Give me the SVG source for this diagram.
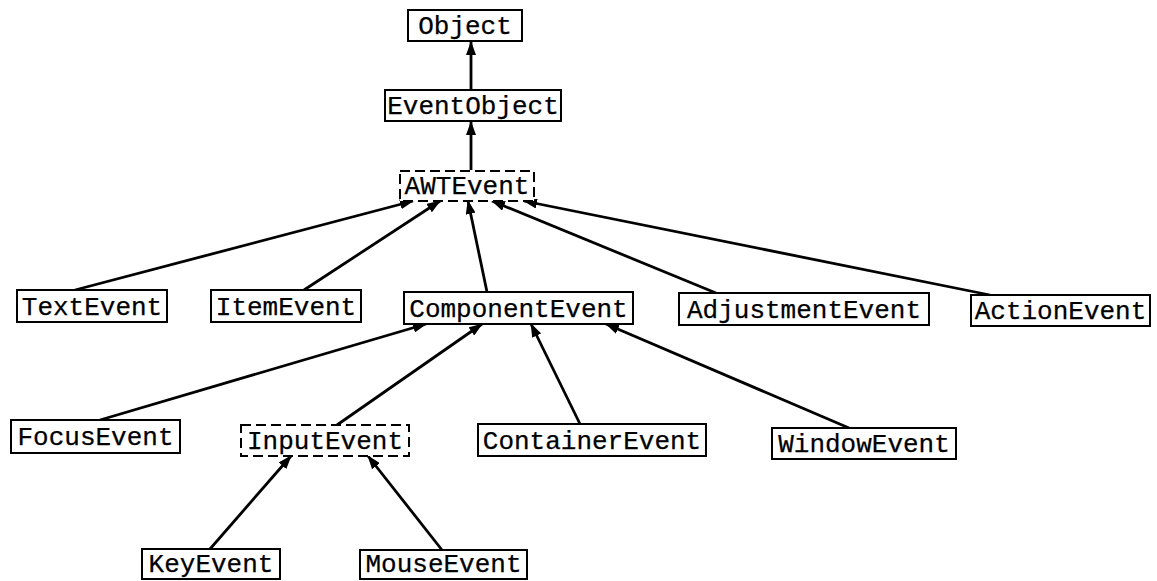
<svg xmlns="http://www.w3.org/2000/svg" width="1157" height="581" viewBox="0 0 1157 581">
<defs>
<marker id="ah" viewBox="0 0 14 10" refX="13" refY="5" markerWidth="14" markerHeight="10" markerUnits="userSpaceOnUse" orient="auto"><path d="M0,0 L14,5 L0,10 z" fill="#000"/></marker>
</defs>
<style>
.box{fill:#fff;stroke:#000;stroke-width:2}
.dash{fill:#fff;stroke:#000;stroke-width:2;stroke-dasharray:10,5}
.t{font-family:"Liberation Mono","Courier New",monospace;font-size:26px;fill:#000;stroke:#000;stroke-width:0.25;text-anchor:middle}
.c{stroke:#000;stroke-width:2.8;fill:none;marker-end:url(#ah)}
</style>
<rect width="1157" height="581" fill="#fff"/>
<g id="connectors">
<line class="c" x1="471" y1="90" x2="471" y2="42"/>
<line class="c" x1="471" y1="170" x2="471" y2="122"/>
<line class="c" x1="75" y1="290" x2="413" y2="201"/>
<line class="c" x1="304" y1="290" x2="440" y2="201"/>
<line class="c" x1="487" y1="292" x2="468" y2="201"/>
<line class="c" x1="716" y1="293" x2="492" y2="201"/>
<line class="c" x1="990" y1="295" x2="524" y2="201"/>
<line class="c" x1="100" y1="420" x2="426" y2="324"/>
<line class="c" x1="337" y1="425" x2="482" y2="324"/>
<line class="c" x1="580" y1="424" x2="531" y2="324"/>
<line class="c" x1="849" y1="428" x2="606" y2="324"/>
<line class="c" x1="210" y1="549" x2="291" y2="456"/>
<line class="c" x1="442" y1="550" x2="368" y2="456"/>
</g>
<g id="Object"><rect class="box" x="408" y="10" width="114" height="31"/><text class="t" x="465" y="34">Object</text></g>
<g id="EventObject"><rect class="box" x="385" y="90" width="176" height="31"/><text class="t" x="473" y="114">EventObject</text></g>
<g id="AWTEvent"><rect class="dash" x="400" y="171" width="134" height="30"/><text class="t" x="467" y="194">AWTEvent</text></g>
<g id="TextEvent"><rect class="box" x="17" y="290" width="150" height="32"/><text class="t" x="92" y="315">TextEvent</text></g>
<g id="ItemEvent"><rect class="box" x="211" y="290" width="150" height="32"/><text class="t" x="286" y="315">ItemEvent</text></g>
<g id="ComponentEvent"><rect class="box" x="404" y="292" width="229" height="32"/><text class="t" x="518.5" y="317">ComponentEvent</text></g>
<g id="AdjustmentEvent"><rect class="box" x="679" y="293" width="250" height="32"/><text class="t" x="804" y="318">AdjustmentEvent</text></g>
<g id="ActionEvent"><rect class="box" x="971" y="295" width="179" height="31"/><text class="t" x="1060.5" y="319">ActionEvent</text></g>
<g id="FocusEvent"><rect class="box" x="11" y="420" width="169" height="33"/><text class="t" x="95.5" y="445">FocusEvent</text></g>
<g id="InputEvent"><rect class="dash" x="241" y="425" width="168" height="31"/><text class="t" x="325" y="449">InputEvent</text></g>
<g id="ContainerEvent"><rect class="box" x="478" y="424" width="228" height="32"/><text class="t" x="592" y="449">ContainerEvent</text></g>
<g id="WindowEvent"><rect class="box" x="772" y="428" width="184" height="31"/><text class="t" x="864" y="452">WindowEvent</text></g>
<g id="KeyEvent"><rect class="box" x="142" y="549" width="138" height="30"/><text class="t" x="211" y="572">KeyEvent</text></g>
<g id="MouseEvent"><rect class="box" x="360" y="550" width="167" height="29"/><text class="t" x="443.5" y="572">MouseEvent</text></g>
</svg>
